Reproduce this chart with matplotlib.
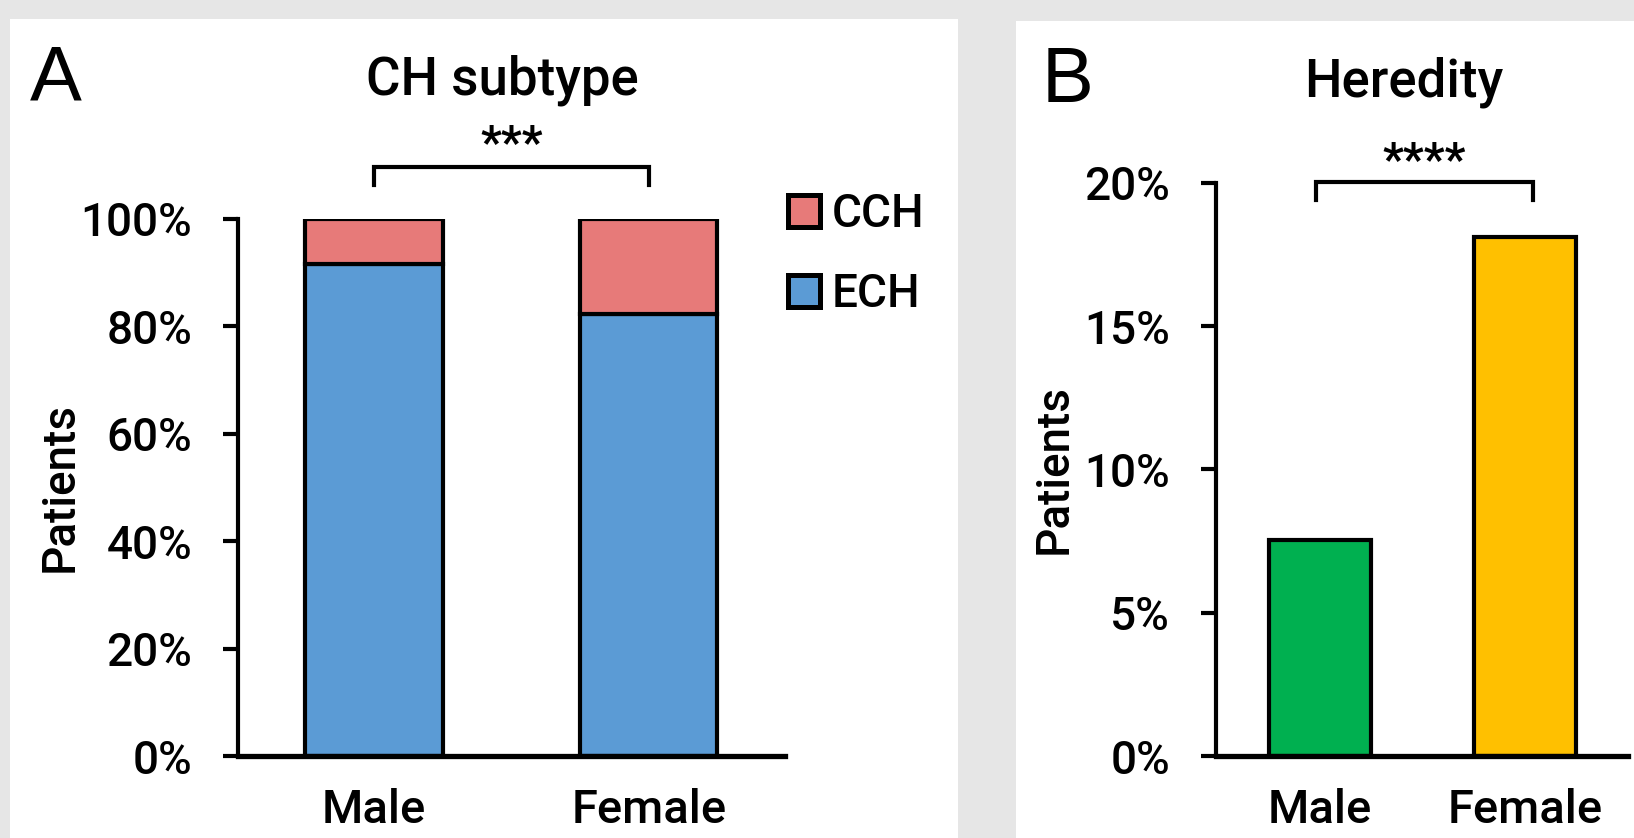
import matplotlib
matplotlib.use("Agg")
import matplotlib.pyplot as plt
from matplotlib.patches import Rectangle, Patch

plt.rcParams['font.family'] = ['Roboto', 'DejaVu Sans']
plt.rcParams['font.weight'] = 'medium'
plt.rcParams['axes.labelweight'] = 'medium'

# data
groups = ['Male', 'Female']
ech = [0.917, 0.823]           # ECH share
cch = [1 - v for v in ech]     # CCH share
heredity = [0.0753, 0.181]     # hereditary share
yticks_a = [0, 0.2, 0.4, 0.6, 0.8, 1.0]
yticks_b = [0, 0.05, 0.10, 0.15, 0.20]
sig_a = '***'
sig_b = '****'

W, H = 1634, 838
fig = plt.figure(figsize=(W / 100, H / 100), dpi=100)
fig.patch.set_facecolor('#e6e6e6')


def px(x0, y0, x1, y1):
    # pixel box (top-left origin) -> figure fraction rect
    return [x0 / W, 1 - y1 / H, (x1 - x0) / W, (y1 - y0) / H]


# white panels
fig.add_artist(Rectangle((10 / W, 0), (958 - 10) / W, 1 - 19 / H,
                         transform=fig.transFigure, facecolor='white', edgecolor='none', zorder=0))
fig.add_artist(Rectangle((1016 / W, 0), (W - 1016) / W, 1 - 21 / H,
                         transform=fig.transFigure, facecolor='white', edgecolor='none', zorder=0))

lw = 3.0
tick_fs = 33
blue, red, green, yellow = '#5b9bd5', '#e77a79', '#00b050', '#ffc000'


def style(ax):
    ax.set_facecolor('none')
    for s in ['top', 'right']:
        ax.spines[s].set_visible(False)
    ax.spines['left'].set_linewidth(lw)
    ax.spines['bottom'].set_linewidth(lw + 0.8)
    ax.tick_params(axis='y', length=11, width=lw, labelsize=tick_fs, pad=22)
    ax.tick_params(axis='x', length=0, labelsize=tick_fs + 1, pad=23)


def bracket(ax, x0, x1, ytop, ybot, label, ytext):
    ax.plot([x0, x0, x1, x1], [ybot, ytop, ytop, ybot], color='black', lw=lw,
            clip_on=False, solid_joinstyle='miter')
    ax.text((x0 + x1) / 2, ytext, label, ha='center', va='center', fontsize=33,
            fontweight='bold', clip_on=False)


# panel A
ax1 = fig.add_axes(px(238, 219, 785, 756))
x = list(range(len(groups)))
ax1.bar(x, ech, width=0.5, color=blue, edgecolor='black', linewidth=lw, label='ECH')
ax1.bar(x, cch, bottom=ech, width=0.5, color=red, edgecolor='black', linewidth=lw, label='CCH')
ax1.set_xlim(-0.495, 1.496)
ax1.set_ylim(0, 1)
ax1.set_yticks(yticks_a)
ax1.set_yticklabels([f'{int(round(v * 100))}%' for v in yticks_a])
ax1.set_xticks(x)
ax1.set_xticklabels(groups)
style(ax1)
ax1.spines['left'].set_bounds(0, 1)
bracket(ax1, 0, 1, 1.097, 1.063, sig_a, 1.137)
ax1.set_ylabel('Patients', fontsize=tick_fs)
ax1.yaxis.set_label_coords(-0.285, 0.5)
handles = [Patch(facecolor=red, edgecolor='black', linewidth=lw + 0.6),
           Patch(facecolor=blue, edgecolor='black', linewidth=lw + 0.6)]
fig.legend(handles, ['CCH', 'ECH'], loc='upper left',
           bbox_to_anchor=(756 / W, 1 - 160 / H), frameon=False, fontsize=tick_fs,
           handlelength=0.7, handleheight=0.7, handletextpad=0.25, labelspacing=0.78,
           borderpad=0.2)

fig.text(502 / W, 1 - 80 / H, 'CH subtype', ha='center', va='center', fontsize=38)
fig.text(30 / W, 1 - 80 / H, 'A', ha='left', va='center', fontsize=56,
         family=['Liberation Sans', 'DejaVu Sans'])

# panel B
ax2 = fig.add_axes(px(1216, 183, 1628, 756))
ax2.bar(x, heredity, width=0.5, color=[green, yellow], edgecolor='black', linewidth=lw)
ax2.set_xlim(-0.507, 1.502)
ax2.set_ylim(0, 0.20)
ax2.set_yticks(yticks_b)
ax2.set_yticklabels([f'{int(round(v * 100))}%' for v in yticks_b])
ax2.set_xticks(x)
ax2.set_xticklabels(groups)
style(ax2)
bracket(ax2, -0.02, 1.04, 0.2005, 0.1942, sig_b, 0.2072)
ax2.set_ylabel('Patients', fontsize=tick_fs)
ax2.yaxis.set_label_coords(-0.34, 0.5)

fig.text(1404 / W, 1 - 82 / H, 'Heredity', ha='center', va='center', fontsize=38)
fig.text(1042 / W, 1 - 81 / H, 'B', ha='left', va='center', fontsize=56,
         family=['Liberation Sans', 'DejaVu Sans'])

fig.savefig('out.png', dpi=100, facecolor=fig.get_facecolor())
